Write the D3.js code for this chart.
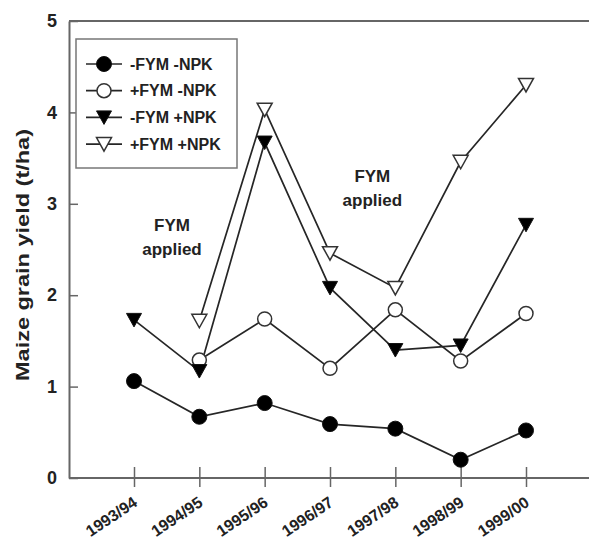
<!DOCTYPE html>
<html>
<head>
<meta charset="utf-8">
<script src="https://cdn.jsdelivr.net/npm/d3@7"></script>
<style>
html,body{margin:0;padding:0;background:#fff;}
svg{display:block;font-family:"Liberation Sans",Arial,sans-serif;}
</style>
</head>
<body>
<svg id="chart" width="589" height="542"></svg>
<script>
const years = ["1993/94","1994/95","1995/96","1996/97","1997/98","1998/99","1999/00"];
const seriesNames = ["-FYM -NPK","+FYM -NPK","-FYM +NPK","+FYM +NPK"];
const noFymNoNpk = [1.06, 0.67, 0.82, 0.59, 0.54, 0.20, 0.52];
const fymNoNpk   = [null, 1.29, 1.74, 1.20, 1.84, 1.28, 1.80];
const noFymNpk   = [1.73, 1.17, 3.67, 2.08, 1.40, 1.45, 2.77];
const fymNpk     = [null, 1.72, 4.03, 2.46, 2.08, 3.46, 4.30];
const yTicks = [0, 1, 2, 3, 4, 5];
const annotations = [
  {year: "1993/94", dx: 38, value: 2.77, lines: ["FYM", "applied"]},
  {year: "1997/98", dx: -23, value: 3.30, lines: ["FYM", "applied"]}
];

(function () {
const svg = d3.select("#chart");
const mLeft = 69, mRight = 589, mTop = 21, mBottom = 478;
const x = d3.scalePoint().domain(years).range([134, 526]);
const y = d3.scaleLinear().domain([0, 5]).range([mBottom, mTop]);
const axisColor = "#666";
const lineColor = "#262626";

svg.append("line").attr("x1", mLeft).attr("x2", mRight).attr("y1", mTop).attr("y2", mTop)
  .attr("stroke", axisColor).attr("stroke-width", 2);

const yAxis = svg.append("g").attr("transform", `translate(${mLeft},0)`)
  .call(d3.axisLeft(y).tickValues(yTicks).tickFormat(d3.format("d")).tickSizeInner(-9).tickSizeOuter(0).tickPadding(12));
yAxis.select(".domain").attr("stroke", axisColor).attr("stroke-width", 2);
yAxis.selectAll(".tick line").attr("stroke", axisColor).attr("stroke-width", 1.5);
yAxis.selectAll(".tick text").attr("font-size", 18).attr("font-weight", "bold").attr("fill", "#222")
  .attr("font-family", "'Liberation Sans',Arial,sans-serif");

const xAxis = svg.append("g").attr("transform", `translate(0,${mBottom})`)
  .call(d3.axisBottom(x).tickSizeInner(9).tickSizeOuter(0));
xAxis.select(".domain").attr("d", `M${mLeft},0H${mRight}`).attr("stroke", axisColor).attr("stroke-width", 2);
xAxis.selectAll(".tick line").attr("y1", -11).attr("y2", 9).attr("stroke", axisColor).attr("stroke-width", 1.5);
xAxis.selectAll(".tick text")
  .attr("y", null).attr("dy", null).attr("x", null)
  .attr("transform", "translate(4,27) rotate(-34)")
  .attr("text-anchor", "end")
  .attr("font-size", 16).attr("font-weight", "bold").attr("fill", "#222")
  .attr("font-family", "'Liberation Sans',Arial,sans-serif");

svg.append("text")
  .attr("transform", "translate(29,255) rotate(-90)")
  .attr("text-anchor", "middle")
  .attr("font-size", 19).attr("font-weight", "bold").attr("fill", "#222")
  .attr("textLength", 252).attr("lengthAdjust", "spacingAndGlyphs")
  .text("Maize grain yield (t/ha)");

function drawMarker(g, type, cx, cy) {
  if (type === 0) {
    g.append("circle").attr("cx", cx).attr("cy", cy).attr("r", 7.5).attr("fill", "#000").attr("stroke", "#111").attr("stroke-width", 1);
  } else if (type === 1) {
    g.append("circle").attr("cx", cx).attr("cy", cy).attr("r", 7).attr("fill", "#fff").attr("stroke", "#333").attr("stroke-width", 1.5);
  } else {
    const filled = type === 2;
    g.append("path").attr("d", `M${cx-7.5},${cy-6.5}L${cx+7.5},${cy-6.5}L${cx},${cy+7}Z`)
      .attr("fill", filled ? "#000" : "#fff").attr("stroke", filled ? "#111" : "#333").attr("stroke-width", filled ? 1 : 1.5);
  }
}

const allSeries = [noFymNoNpk, fymNoNpk, noFymNpk, fymNpk];
const line = d3.line().defined(d => d.v != null).x(d => x(d.year)).y(d => y(d.v));
const plot = svg.append("g");
allSeries.forEach((vals) => {
  const pts = years.map((yr, j) => ({year: yr, v: vals[j]}));
  plot.append("path").datum(pts).attr("d", line).attr("fill", "none")
    .attr("stroke", lineColor).attr("stroke-width", 1.7);
});
allSeries.forEach((vals, i) => {
  years.forEach((yr, j) => {
    if (vals[j] != null) drawMarker(plot, i, x(yr), y(vals[j]));
  });
});

annotations.forEach(a => {
  const t = svg.append("text").attr("text-anchor", "middle")
    .attr("font-size", 17).attr("font-weight", "bold").attr("fill", "#222");
  a.lines.forEach((ln, k) => {
    t.append("tspan").attr("x", x(a.year) + a.dx).attr("y", y(a.value) + k * 24).attr("dy", "0.35em").text(ln);
  });
});

const lg = svg.append("g");
lg.append("rect").attr("x", 76).attr("y", 39).attr("width", 161).attr("height", 129)
  .attr("fill", "#fff").attr("stroke", "#777").attr("stroke-width", 1.5);
seriesNames.forEach((name, i) => {
  const ry = 64 + i * 26.7;
  lg.append("line").attr("x1", 86).attr("x2", 122).attr("y1", ry).attr("y2", ry)
    .attr("stroke", lineColor).attr("stroke-width", 1.7);
  drawMarker(lg, i, 104, ry);
  lg.append("text").attr("x", 130).attr("y", ry).attr("dy", "0.36em")
    .attr("font-size", 16).attr("font-weight", "bold").attr("fill", "#222").text(name);
});
})();
</script>
</body>
</html>
